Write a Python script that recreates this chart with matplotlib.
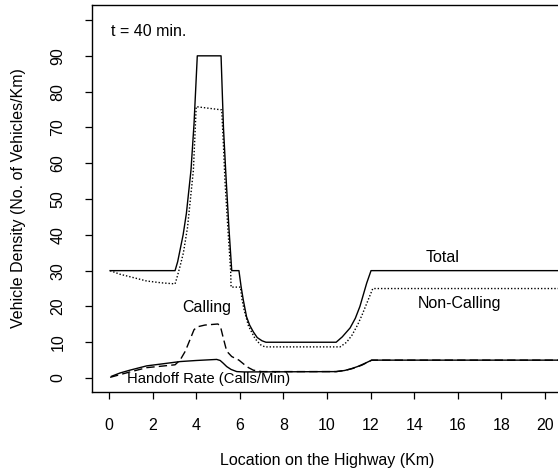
import matplotlib
matplotlib.use("Agg")
import matplotlib.pyplot as plt

plt.rcParams['font.family'] = ['Liberation Sans', 'DejaVu Sans']

# Total vehicle density
total_x = [0.05, 3.03, 3.15, 3.26, 3.4, 3.55, 3.76, 3.9, 4.05, 5.14, 5.25, 5.36, 5.5, 5.63, 5.96,
           6.06, 6.16, 6.31, 6.45, 6.62, 6.8, 7.02, 7.2, 10.42, 10.7, 11.06, 11.3, 11.51, 11.82, 12.02, 21.0]
total_y = [30, 30, 32.5, 35.8, 40, 46, 58, 71, 90, 90, 70, 57, 42, 30, 30,
           25.5, 21.8, 17.1, 14.8, 12.9, 11.3, 10.4, 10, 10, 11.5, 14, 16.7, 20, 26.5, 30, 30]

# Non-calling vehicle density
noncall_x = [0.05, 0.5, 0.96, 1.73, 2.4, 3.03, 3.11, 3.25, 3.41, 3.6, 3.87, 4.0, 5.17, 5.25, 5.32,
             5.45, 5.58, 5.6, 6.03, 6.1, 6.2, 6.4, 6.7, 6.95, 7.15, 10.6, 10.9, 11.15, 11.4, 11.6, 11.9, 12.1, 21.0]
noncall_y = [30, 29.0, 28.3, 27.1, 26.6, 26.3, 27.9, 31, 34.9, 42, 58, 75.8, 74.9, 65, 55,
             42, 30, 25.4, 25.4, 22, 19, 14.5, 11, 9.3, 8.7, 8.7, 10, 12, 14.8, 17.5, 22, 25, 25]

# Calling vehicle density
call_x = [0.05, 0.96, 1.73, 3.03, 3.26, 3.5, 3.7, 3.9, 4.05, 4.4, 5.0, 5.12, 5.25, 5.4, 5.63,
          5.96, 6.2, 6.4, 6.62, 7.0, 10.42, 10.8, 11.2, 11.6, 12.05, 21.0]
call_y = [0.2, 1.7, 2.9, 3.7, 5.0, 7.5, 10.5, 13.5, 14.3, 14.8, 15.1, 14.2, 11, 7.5, 6,
          5, 3.8, 2.9, 2.2, 1.8, 1.8, 2.1, 2.7, 3.6, 5, 5]

# Handoff rate (calls/min)
hand_x = [0.12, 0.5, 0.96, 1.73, 2.5, 3.26, 4.0, 4.94, 5.1, 5.23, 5.4, 5.6, 5.86, 6.2,
          10.42, 10.8, 11.06, 11.4, 11.7, 12.05, 21.0]
hand_y = [0.5, 1.4, 2.2, 3.4, 4.0, 4.6, 4.9, 5.2, 4.9, 4.2, 3.2, 2.4, 1.8, 1.7,
          1.8, 2.1, 2.5, 3.2, 4.0, 5.0, 5.0]

fig = plt.figure(figsize=(5.58, 4.73), dpi=100)
ax = fig.add_axes([92 / 558, 81 / 473, 470 / 558, 387 / 473])

ax.plot(total_x, total_y, color='black', lw=1.0)
ax.plot(noncall_x, noncall_y, color='black', lw=1.0, linestyle=(0, (1, 1.4)))
ax.plot(call_x, call_y, color='black', lw=1.0, linestyle=(0, (6, 3)))
ax.plot(hand_x, hand_y, color='black', lw=1.0)

ax.set_xlim(-0.78, 20.78)
ax.set_ylim(-3.9, 104.2)

ax.set_xticks(range(0, 21, 2))
ax.set_yticks(range(0, 101, 10))
ax.set_yticklabels([str(v) for v in range(0, 91, 10)] + [''])
ax.tick_params(direction='out', length=5, width=0.9, colors='black', labelsize=11.5, pad=14)
for lab in ax.get_yticklabels():
    lab.set_rotation(90)
    lab.set_va('center')

for s in ['left', 'top', 'bottom', 'right']:
    ax.spines[s].set_linewidth(1.0)
    ax.spines[s].set_color('black')

ax.set_xlabel('Location on the Highway (Km)', fontsize=11.5, labelpad=14)
ax.set_ylabel('Vehicle Density (No. of Vehicles/Km)', fontsize=11.5, labelpad=18)

ax.text(0.1, 96.9, 't = 40 min.', fontsize=11.5, ha='left', va='center')
ax.text(15.3, 33.8, 'Total', fontsize=11.5, ha='center', va='center')
ax.text(16.1, 20.9, 'Non-Calling', fontsize=11.5, ha='center', va='center')
ax.text(4.5, 19.8, 'Calling', fontsize=11.5, ha='center', va='center')
ax.text(4.55, -0.2, 'Handoff Rate (Calls/Min)', fontsize=10.7, ha='center', va='center')

fig.savefig('out.png', dpi=100)
